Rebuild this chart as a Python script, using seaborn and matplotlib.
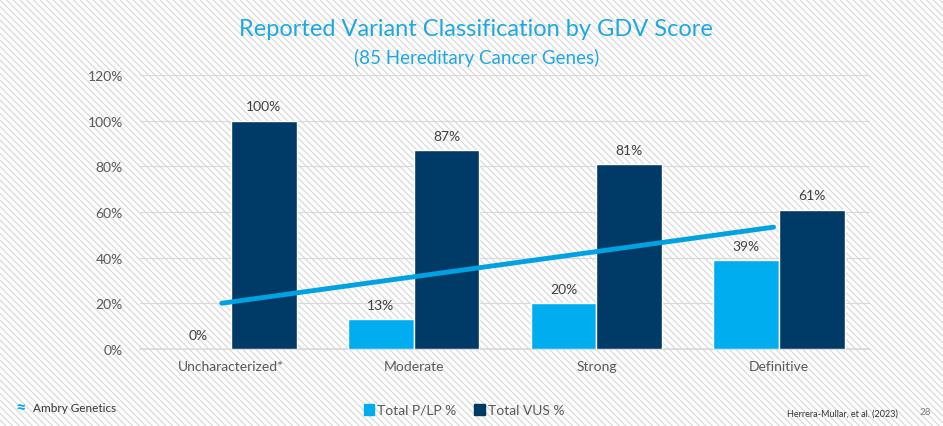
import matplotlib
matplotlib.use("Agg")
import matplotlib.pyplot as plt
import seaborn as sns
import pandas as pd
from matplotlib.patches import Rectangle

categories = ["Uncharacterized*", "Moderate", "Strong", "Definitive"]
plp = [0, 13, 20, 39]
vus = [100, 87, 81, 61]
trend_x = [-0.05, 2.97]
trend_y = [20.1, 53.4]

LIGHT = "#00ADEE"
DARK = "#003A66"

sns.set_theme(style="white")
plt.rcParams["font.family"] = ["Lato", "DejaVu Sans"]

df = pd.DataFrame({
    "cat": categories * 2,
    "val": plp + vus,
    "series": ["Total P/LP %"] * 4 + ["Total VUS %"] * 4,
})

fig = plt.figure(figsize=(9.43, 4.27), dpi=100)
fig.patches.append(Rectangle((0, 0), 1, 1, transform=fig.transFigure, facecolor="white",
                             edgecolor="#dcdcdc", hatch="\\\\\\\\\\", lw=0, zorder=-10))
ax = fig.add_axes([0.148, 0.18, 0.775, 0.642])
ax.set_facecolor("none")

sns.barplot(data=df, x="cat", y="val", hue="series", palette=[LIGHT, DARK],
            saturation=1, width=0.72, gap=0, ax=ax, legend=False, zorder=3)
for cont in ax.containers:
    ax.bar_label(cont, labels=[f"{v:.0f}%" for v in cont.datavalues], padding=6,
                 fontsize=10, color="#404040")

ax.plot(trend_x, trend_y, color="#00A3E0", lw=3.5, zorder=4)

ax.set_ylim(0, 120)
ax.set_xlim(-0.5, 3.5)
ax.set_yticks(range(0, 121, 20))
ax.set_yticklabels([f"{t}%" for t in range(0, 121, 20)], fontsize=10, color="#595959")
ax.tick_params(axis="x", labelsize=10, colors="#595959", length=0, pad=8)
ax.tick_params(axis="y", length=0, pad=12)
ax.yaxis.grid(True, color="#d9d9d9", lw=0.8, zorder=0)
ax.set_xlabel("")
ax.set_ylabel("")
for s in ["top", "right", "left"]:
    ax.spines[s].set_visible(False)
ax.spines["bottom"].set_color("#d9d9d9")

fig.text(0.505, 0.915, "Reported Variant Classification by GDV Score", ha="center",
         fontsize=17, color="#1FA8E0")
fig.text(0.505, 0.85, "(85 Hereditary Cancer Genes)", ha="center", fontsize=13.5, color="#1FA8E0")

# legend
fig.patches.append(Rectangle((0.386, 0.026), 0.011, 0.025, transform=fig.transFigure, color=LIGHT))
fig.text(0.4, 0.038, "Total P/LP %", fontsize=10, color="#595959", va="center")
fig.patches.append(Rectangle((0.503, 0.026), 0.011, 0.025, transform=fig.transFigure, color=DARK))
fig.text(0.517, 0.038, "Total VUS %", fontsize=10, color="#595959", va="center")

fig.text(0.017, 0.045, "\u2248", fontsize=13, color=LIGHT, va="center", fontweight="bold")
fig.text(0.035, 0.043, "Ambry Genetics", fontsize=8.5, color="#333333", va="center")
fig.text(0.835, 0.03, "Herrera-Mullar, et al. (2023)", fontsize=6.5, color="#333333", va="center")
fig.text(0.975, 0.033, "28", fontsize=7, color="#7f7f7f", va="center")

fig.savefig("out.png", dpi=100)
